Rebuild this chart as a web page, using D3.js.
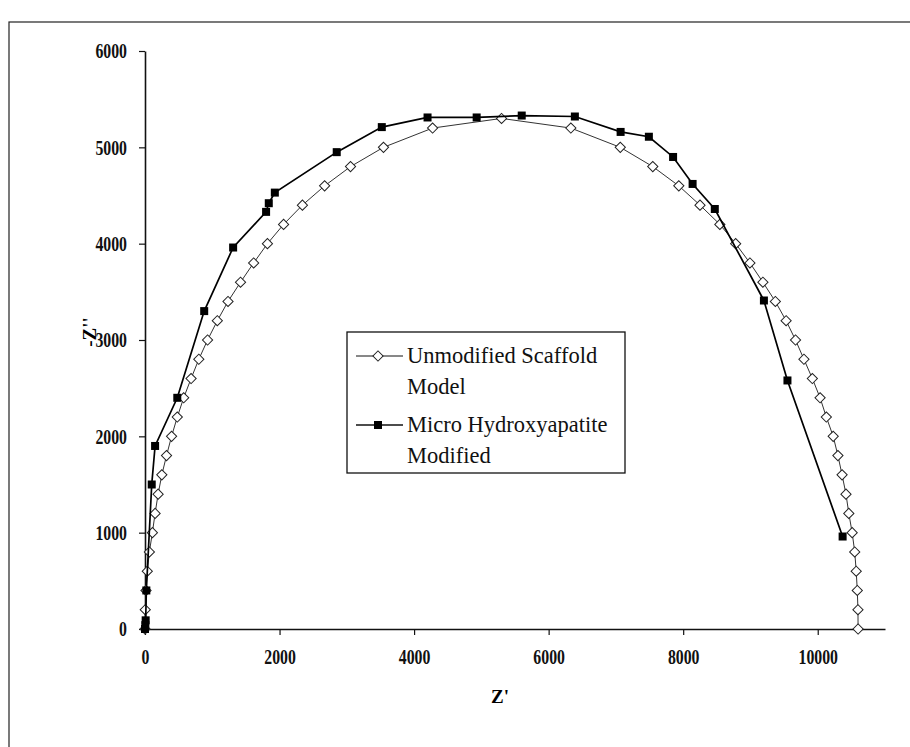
<!DOCTYPE html>
<html>

<head>
    <title>Nyquist plot</title>
    <script src="https://cdn.jsdelivr.net/npm/d3@7"></script>
    <style>
        body { margin: 0; background: #fff; }
    </style>
</head>

<body>
    <svg width="910" height="747" id="mainsvg"></svg>
    <script>
        // Unmodified Scaffold Model (open diamonds)
        const unmodRe = [0, 4, 15, 34, 65, 110, 150, 195, 250, 320, 395, 480, 575, 685, 800, 930, 1075, 1234,
            1420, 1615, 1820, 2060, 2340, 2670, 3055, 3545, 4275, 5300,
            6330, 7065, 7548, 7935, 8250, 8545, 8780, 8992, 9185, 9370, 9530, 9670, 9795, 9920, 10035, 10128,
            10230, 10300, 10362, 10420, 10462, 10512, 10550, 10572, 10588, 10598, 10600];
        const unmodIm = [0, 200, 400, 600, 800, 1000, 1200, 1400, 1600, 1800, 2000, 2200, 2400, 2600, 2800, 3000, 3200, 3400,
            3600, 3800, 4000, 4200, 4400, 4600, 4800, 5000, 5200, 5300,
            5200, 5000, 4800, 4600, 4400, 4200, 4000, 3800, 3600, 3400, 3200, 3000, 2800, 2600, 2400, 2200,
            2000, 1800, 1600, 1400, 1200, 1000, 800, 600, 400, 200, 0];

        // Micro Hydroxyapatite Modified (filled squares)
        const microRe = [0, 5, 10, 20, 100, 150, 480, 880, 1310, 1800, 1840, 1930, 2850, 3520, 4200, 4930, 5600,
            6390, 7070, 7490, 7850, 8140, 8470, 9200, 9550, 10370];
        const microIm = [0, 40, 90, 400, 1500, 1900, 2400, 3300, 3960, 4330, 4420, 4530, 4950, 5210, 5310, 5310, 5330,
            5320, 5160, 5110, 4900, 4620, 4360, 3410, 2580, 960];

        const xTicks = [0, 2000, 4000, 6000, 8000, 10000];
        const yTicks = [0, 1000, 2000, 3000, 4000, 5000, 6000];
        const legendLabels = [['Unmodified Scaffold', 'Model'], ['Micro Hydroxyapatite', 'Modified']];

        const svg = d3.select('#mainsvg');

        // scanned page frame
        svg.append('rect')
            .attr('x', 9).attr('y', 22)
            .attr('width', 940).attr('height', 780)
            .attr('fill', 'none').attr('stroke', '#222').attr('stroke-width', 1.2);

        const xScale = d3.scaleLinear().domain([0, 11000]).range([145, 885]);
        const yScale = d3.scaleLinear().domain([0, 6000]).range([629, 51]);

        const serif = '"Liberation Serif", "Times New Roman", serif';

        const xAxis = d3.axisBottom(xScale).tickValues(xTicks).tickSize(6).tickSizeOuter(0)
            .tickPadding(14).tickFormat(d3.format('d'));
        const yAxis = d3.axisLeft(yScale).tickValues(yTicks).tickSize(6).tickSizeOuter(0)
            .tickPadding(12).tickFormat(d3.format('d'));

        const xAxisGroup = svg.append('g').attr('transform', `translate(0, ${yScale(0)})`).call(xAxis);
        const yAxisGroup = svg.append('g').attr('transform', `translate(${xScale(0)}, 0)`).call(yAxis);

        [xAxisGroup, yAxisGroup].forEach(ax => {
            ax.selectAll('.domain').attr('stroke', '#111').attr('stroke-width', 1.6);
            ax.selectAll('.tick line').attr('stroke', '#111').attr('stroke-width', 1.2);
            // condensed look of the original labels
            ax.selectAll('.tick text')
                .attr('font-family', serif)
                .attr('font-size', 21)
                .attr('font-weight', 'bold')
                .attr('fill', '#111')
                .attr('textLength', d => String(d).length * 7.9)
                .attr('lengthAdjust', 'spacingAndGlyphs');
        });

        // axis titles
        svg.append('text')
            .attr('x', 500).attr('y', 703)
            .attr('text-anchor', 'middle')
            .attr('font-family', serif).attr('font-size', 19).attr('font-weight', 'bold')
            .text("Z'");
        svg.append('text')
            .attr('transform', 'translate(96, 332) rotate(-90)')
            .attr('text-anchor', 'middle')
            .attr('font-family', serif).attr('font-size', 19).attr('font-weight', 'bold')
            .text("-Z''");

        const line = d3.line().x(d => xScale(d[0])).y(d => yScale(d[1]));
        const unmod = unmodRe.map((v, i) => [v, unmodIm[i]]);
        const micro = microRe.map((v, i) => [v, microIm[i]]);

        const diamond = d3.symbol().type(d3.symbolSquare).size(52);

        // unmodified series
        svg.append('path').datum(unmod)
            .attr('d', line).attr('fill', 'none')
            .attr('stroke', '#333').attr('stroke-width', 1);
        svg.append('g').selectAll('path').data(unmod).join('path')
            .attr('d', diamond)
            .attr('transform', d => `translate(${xScale(d[0])}, ${yScale(d[1])}) rotate(45)`)
            .attr('fill', '#fff').attr('stroke', '#222').attr('stroke-width', 1);

        // micro series
        svg.append('path').datum(micro)
            .attr('d', line).attr('fill', 'none')
            .attr('stroke', '#000').attr('stroke-width', 1.7);
        svg.append('g').selectAll('rect').data(micro).join('rect')
            .attr('x', d => xScale(d[0]) - 4).attr('y', d => yScale(d[1]) - 4)
            .attr('width', 8).attr('height', 8)
            .attr('fill', '#000');

        // legend
        const lg = svg.append('g').attr('transform', 'translate(347, 332)');
        lg.append('rect').attr('width', 278).attr('height', 141)
            .attr('fill', '#fff').attr('stroke', '#111').attr('stroke-width', 1.3);
        const legendRows = lg.selectAll('.row').data(legendLabels).join('g')
            .attr('class', 'row')
            .attr('transform', (d, i) => `translate(0, ${24 + i * 69})`);
        legendRows.append('line')
            .attr('x1', 9).attr('x2', 56)
            .attr('stroke', '#111').attr('stroke-width', (d, i) => i === 0 ? 1 : 1.7);
        legendRows.filter((d, i) => i === 0).append('path')
            .attr('d', diamond).attr('transform', 'translate(31, 0) rotate(45)')
            .attr('fill', '#fff').attr('stroke', '#222');
        legendRows.filter((d, i) => i === 1).append('rect')
            .attr('x', 27).attr('y', -4).attr('width', 8).attr('height', 8).attr('fill', '#000');
        legendRows.append('text')
            .attr('y', 7)
            .attr('font-family', serif).attr('font-size', 22.5).attr('fill', '#111')
            .selectAll('tspan').data(d => d).join('tspan')
            .attr('x', 60).attr('dy', (d, i) => i === 0 ? 0 : 31)
            .text(d => d);
    </script>
</body>

</html>
